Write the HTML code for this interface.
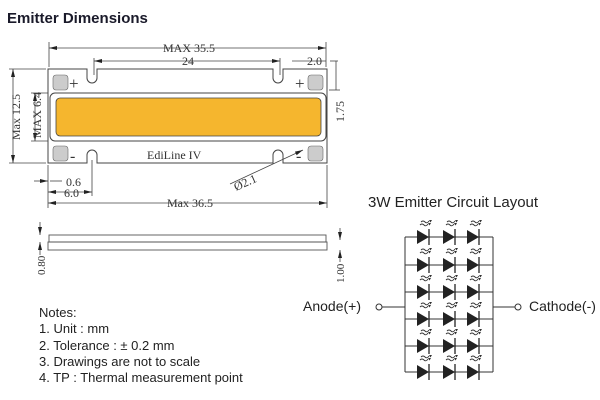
<!DOCTYPE html>
<html><head><meta charset="utf-8"><style>
html,body{margin:0;padding:0;background:#fff;}
svg{display:block;}
</style></head><body>
<svg width="600" height="400" viewBox="0 0 600 400" xmlns="http://www.w3.org/2000/svg">
<defs>
<marker id="a" markerUnits="userSpaceOnUse" markerWidth="8" markerHeight="6" refX="8" refY="3" orient="auto"><path d="M0,1 L8,3 L0,5z" fill="#222"/></marker>
<marker id="b" markerUnits="userSpaceOnUse" markerWidth="8" markerHeight="6" refX="0" refY="3" orient="auto"><path d="M8,1 L0,3 L8,5z" fill="#222"/></marker>
<g id="d">
<path d="M0,-7 L12,0 L0,7z" fill="#222"/>
<line x1="12" y1="-8" x2="12" y2="8" stroke="#222" stroke-width="1.3"/>
<path d="M3,-12 q2,-2 4,0 t4,-1 M4,-15 q2,-2 4,0 t4,-1" stroke="#333" fill="none" stroke-width="0.9"/>
<path d="M11,-14 l3,0 l-1.5,2.5z M12,-17 l3,0 l-1.5,2.5z" fill="#333"/>
</g>
</defs>
<text x="7" y="23" font-family="'Liberation Sans',sans-serif" font-weight="bold" font-size="15" fill="#1a1a2a">Emitter Dimensions</text>

<g font-family="'Liberation Serif',serif" font-size="12" fill="#333">
<path d="M48,69 H87 V78 A5,5 0 0 0 97,78 V69 H273 V78 A5,5 0 0 0 283,78 V69 H327 V163 H283 V155 A5,5 0 0 0 273,155 V163 H97 V155 A5,5 0 0 0 87,155 V163 H48 Z" fill="#fff" stroke="#444" stroke-width="1"/>
<rect x="50" y="93" width="276" height="48" rx="5" fill="#fff" stroke="#444" stroke-width="1"/>
<rect x="56" y="98" width="265" height="38" rx="4" fill="#f5b62e" stroke="#444" stroke-width="0.8"/>
<rect x="53" y="75" width="15" height="15" rx="3" fill="#ccc" stroke="#666" stroke-width="0.6"/>
<rect x="308" y="75" width="15" height="15" rx="3" fill="#ccc" stroke="#666" stroke-width="0.6"/>
<rect x="53" y="146" width="15" height="15" rx="3" fill="#ccc" stroke="#666" stroke-width="0.6"/>
<rect x="308" y="146" width="15" height="15" rx="3" fill="#ccc" stroke="#666" stroke-width="0.6"/>
<text x="69" y="89" font-size="17">+</text>
<text x="295" y="89" font-size="17">+</text>
<text x="70" y="161" font-size="16">-</text>
<text x="296" y="161" font-size="16">-</text>
<text x="147" y="159" font-size="12">EdiLine IV</text>

<g stroke="#444" stroke-width="0.8" fill="none">
<line x1="49" y1="48" x2="326" y2="48" marker-start="url(#b)" marker-end="url(#a)"/>
<line x1="49" y1="42" x2="49" y2="67"/><line x1="326" y1="42" x2="326" y2="67"/>
<line x1="94" y1="61" x2="280" y2="61" marker-start="url(#b)" marker-end="url(#a)"/>
<line x1="94" y1="58" x2="94" y2="75"/><line x1="280" y1="58" x2="280" y2="75"/>
<line x1="292" y1="61" x2="326" y2="61"/><line x1="330" y1="61" x2="338" y2="61"/>
<line x1="48" y1="203" x2="327" y2="203" marker-start="url(#b)" marker-end="url(#a)"/>
<line x1="48" y1="165" x2="48" y2="208"/><line x1="327" y1="165" x2="327" y2="208"/>
<line x1="13" y1="69" x2="13" y2="163" marker-start="url(#b)" marker-end="url(#a)"/>
<line x1="9" y1="69" x2="46" y2="69"/><line x1="9" y1="163" x2="46" y2="163"/>
<line x1="35" y1="93" x2="35" y2="141" marker-start="url(#b)" marker-end="url(#a)"/>
<line x1="31" y1="93" x2="48" y2="93"/><line x1="31" y1="141" x2="48" y2="141"/>
<line x1="336" y1="61" x2="336" y2="90"/><line x1="329" y1="90" x2="340" y2="90"/>
<line x1="34" y1="181" x2="48" y2="181" marker-end="url(#a)"/><line x1="50" y1="181" x2="62" y2="181"/>
<line x1="48" y1="192" x2="92" y2="192" marker-start="url(#b)" marker-end="url(#a)"/>
<line x1="92" y1="160" x2="92" y2="196"/>
<line x1="230" y1="184" x2="303" y2="150" marker-end="url(#a)"/>
</g>
<text x="163" y="52">MAX 35.5</text>
<text x="182" y="65">24</text>
<text x="307" y="65">2.0</text>
<text x="167" y="207">Max 36.5</text>
<text x="66" y="186">0.6</text>
<text x="64" y="197">6.0</text>
<text transform="translate(236,191) rotate(-24)">Ø2.1</text>
<text transform="translate(20,140) rotate(-90)">Max 12.5</text>
<text transform="translate(41,138) rotate(-90)">MAX 6.4</text>
<text transform="translate(344,122) rotate(-90)">1.75</text>

<rect x="49" y="235" width="277" height="7" fill="none" stroke="#555" stroke-width="0.9"/>
<rect x="48" y="242" width="279" height="8" fill="none" stroke="#555" stroke-width="0.9"/>
<g stroke="#444" stroke-width="0.8">
<line x1="40" y1="222" x2="40" y2="235" marker-end="url(#a)"/>
<line x1="40" y1="255" x2="40" y2="242" marker-end="url(#a)"/>
<line x1="340" y1="228" x2="340" y2="240" marker-end="url(#a)"/>
<line x1="340" y1="262" x2="340" y2="250" marker-end="url(#a)"/>
</g>
<text transform="translate(45,275) rotate(-90)" font-size="11">0.80</text>
<text transform="translate(344,283) rotate(-90)" font-size="11">1.00</text>
</g>

<g font-family="'Liberation Sans',sans-serif" font-size="13" fill="#222">
<text x="39" y="317">Notes:</text>
<text x="39" y="333">1.  Unit : mm</text>
<text x="39" y="350">2.  Tolerance : ± 0.2 mm</text>
<text x="39" y="366">3.  Drawings are not to scale</text>
<text x="39" y="382">4.  TP : Thermal measurement point</text>
<text x="368" y="207" font-size="15">3W Emitter Circuit Layout</text>
<text x="303" y="311" font-size="14">Anode(+)</text>
<text x="529" y="311" font-size="14">Cathode(-)</text>
</g>

<g stroke="#333" stroke-width="1" fill="none">
<line x1="405" y1="237" x2="405" y2="372"/>
<line x1="493" y1="237" x2="493" y2="372"/>
<line x1="382" y1="307" x2="405" y2="307"/>
<line x1="493" y1="307" x2="515" y2="307"/>
<circle cx="379" cy="307" r="3" fill="#fff"/>
<circle cx="518" cy="307" r="3" fill="#fff"/>
<line x1="405" y1="237" x2="493" y2="237"/>
<line x1="405" y1="265" x2="493" y2="265"/>
<line x1="405" y1="292" x2="493" y2="292"/>
<line x1="405" y1="319" x2="493" y2="319"/>
<line x1="405" y1="346" x2="493" y2="346"/>
<line x1="405" y1="372" x2="493" y2="372"/>
</g>
<g>
<use href="#d" x="417" y="237"/><use href="#d" x="443" y="237"/><use href="#d" x="467" y="237"/>
<use href="#d" x="417" y="265"/><use href="#d" x="443" y="265"/><use href="#d" x="467" y="265"/>
<use href="#d" x="417" y="292"/><use href="#d" x="443" y="292"/><use href="#d" x="467" y="292"/>
<use href="#d" x="417" y="319"/><use href="#d" x="443" y="319"/><use href="#d" x="467" y="319"/>
<use href="#d" x="417" y="346"/><use href="#d" x="443" y="346"/><use href="#d" x="467" y="346"/>
<use href="#d" x="417" y="372"/><use href="#d" x="443" y="372"/><use href="#d" x="467" y="372"/>
</g>
</svg>
</body></html>
